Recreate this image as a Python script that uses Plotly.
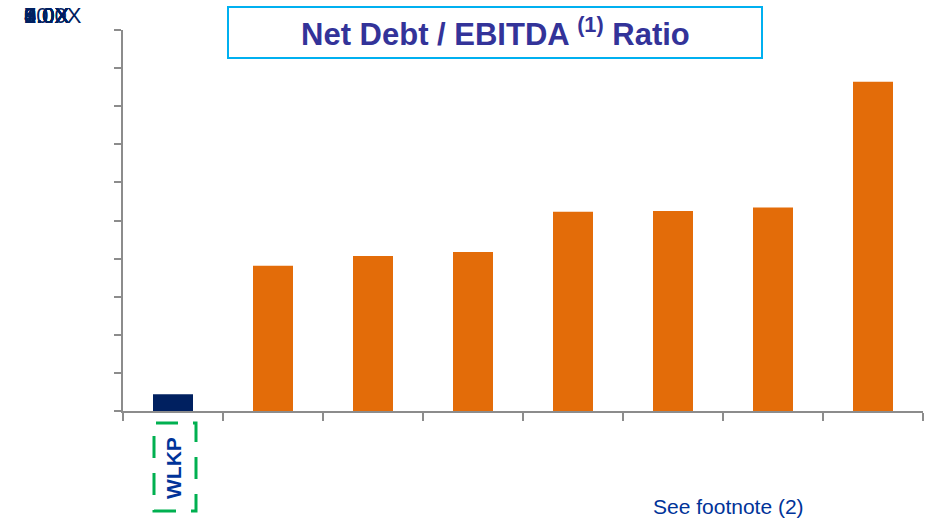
import plotly.graph_objects as go

# ---- data ----
companies = ["WLKP", "Peer 1", "Peer 2", "Peer 3", "Peer 4", "Peer 5", "Peer 6", "Peer 7"]
ratios = [0.44, 3.81, 4.07, 4.17, 5.23, 5.25, 5.34, 8.64]
bar_colors = ["#002060"] + ["#E36C09"] * 7
y_tick_values = [0, 1, 2, 3, 4, 5, 6, 7, 8, 9, 10]
y_tick_labels = ["0.0X", "1.0X", "2.0X", "3.0X", "4.0X", "5.0X",
                 "6.0X", "7.0X", "8.0X", "9.0X", "10.0X"]
title_text = "Net Debt / EBITDA <sup>(1)</sup> Ratio"
footnote = "See footnote (2)"

W, H = 925, 518
L, T = 123, 30
PW, PH = 800, 381
R = W - L - PW
B = H - T - PH


def px_x(p):
    return (p - L) / PW


def px_y(p):
    return (T + PH - p) / PH


positions = list(range(len(companies)))

fig = go.Figure()
fig.add_trace(go.Bar(
    x=positions, y=ratios, width=0.4,
    marker=dict(color=bar_colors, line=dict(width=0)),
    hoverinfo="skip",
))

fig.update_layout(
    width=W, height=H,
    margin=dict(l=L, r=R, t=T, b=B, pad=0),
    paper_bgcolor="white", plot_bgcolor="white",
    showlegend=False,
    font=dict(family="Liberation Sans, Arial, sans-serif"),
    xaxis=dict(
        range=[-0.5, len(companies) - 0.5],
        tickmode="array",
        tickvals=[i - 0.5 for i in range(len(companies) + 1)],
        showticklabels=False,
        ticks="outside", ticklen=8, tickwidth=2, tickcolor="#8C8C8C",
        showline=True, linecolor="#8C8C8C", linewidth=2,
        showgrid=False, zeroline=False,
    ),
    yaxis=dict(
        range=[0, 10],
        tickmode="array", tickvals=y_tick_values,
        showticklabels=False,
        ticks="outside", ticklen=7, tickwidth=2, tickcolor="#8C8C8C",
        showline=True, linecolor="#8C8C8C", linewidth=2,
        showgrid=False, zeroline=False,
    ),
)

# overlapping y tick labels at top-left (as in reference)
for lab in y_tick_labels:
    fig.add_annotation(
        x=px_x(22), y=px_y(15), xref="paper", yref="paper",
        xanchor="left", yanchor="middle", showarrow=False,
        text=lab, font=dict(size=22, color="#002060"),
    )

# title box
fig.add_shape(
    type="rect", xref="paper", yref="paper",
    x0=px_x(228), x1=px_x(762), y0=px_y(58), y1=px_y(7),
    line=dict(color="#00B0F0", width=2), fillcolor="rgba(0,0,0,0)",
)
fig.add_annotation(
    x=px_x(495), y=px_y(32), xref="paper", yref="paper",
    xanchor="center", yanchor="middle", showarrow=False,
    text="<b>" + title_text + "</b>",
    font=dict(size=31, color="#333399"),
)

# WLKP label with dashed green box
fig.add_shape(
    type="rect", xref="paper", yref="paper",
    x0=px_x(154), x1=px_x(196), y0=px_y(511), y1=px_y(423),
    line=dict(color="#00B050", width=3, dash="22px,15px"),
    fillcolor="rgba(0,0,0,0)",
)
fig.add_annotation(
    x=positions[0], y=px_y(468), xref="x", yref="paper",
    xanchor="center", yanchor="middle", showarrow=False,
    textangle=-90, text="<b>" + companies[0] + "</b>",
    font=dict(size=21, color="#003399"),
)

# footnote
fig.add_annotation(
    x=px_x(728), y=px_y(506), xref="paper", yref="paper",
    xanchor="center", yanchor="middle", showarrow=False,
    text=footnote, font=dict(size=21, color="#003399"),
)

fig.write_html(
    "out.html",
    config={"displayModeBar": False},
    post_script="document.body.style.margin='0';document.body.style.padding='0';",
)
